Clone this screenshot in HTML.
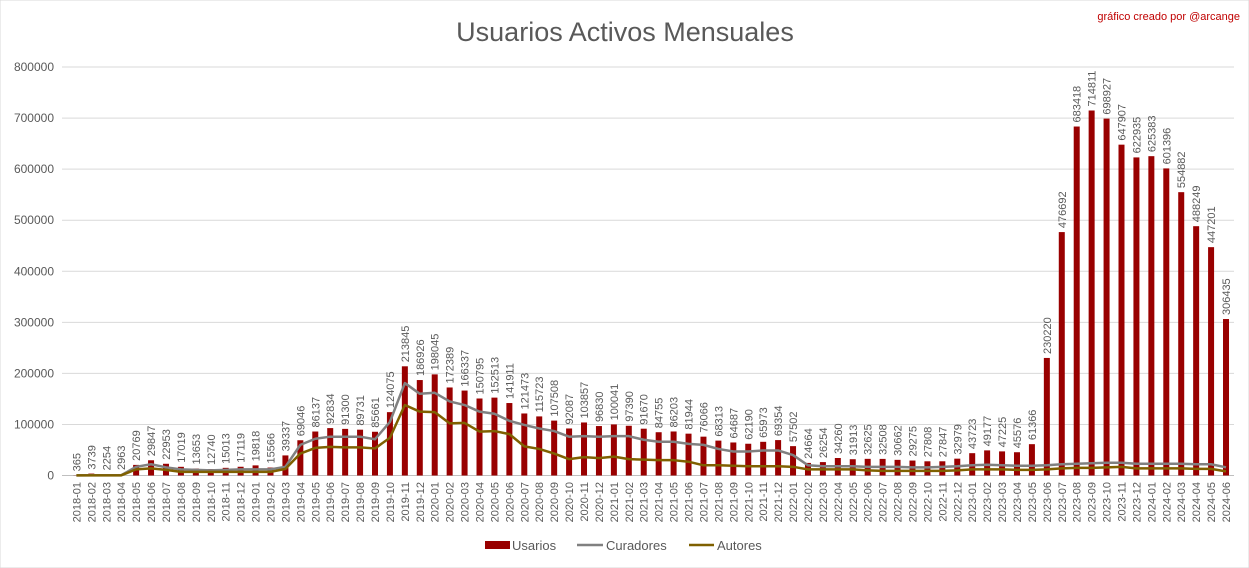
<!DOCTYPE html>
<html><head><meta charset="utf-8"><style>
html,body{margin:0;padding:0;background:#fff;}
svg{display:block;font-family:"Liberation Sans",sans-serif;}
</style></head><body>
<svg id="chart" width="1249" height="568" viewBox="0 0 1249 568" xmlns="http://www.w3.org/2000/svg">
<rect x="0" y="0" width="1249" height="568" fill="#fff" stroke="#d9d9d9"/>
<text x="625" y="41" text-anchor="middle" font-size="27" fill="#595959">Usuarios Activos Mensuales</text>
<text x="1240" y="20" text-anchor="end" font-size="11" fill="#c00000">gráfico creado por @arcange</text>
<g id="grid"></g>
<g id="yaxis"></g>
<g id="bars"></g>
<g id="lines"></g>
<g id="vlabels"></g>
<g id="xaxis"></g>
<g>
<rect x="485" y="541" width="25" height="8" fill="#990000"/>
<text x="512" y="550" font-size="13" fill="#595959">Usarios</text>
<line x1="577" y1="545" x2="603" y2="545" stroke="#808080" stroke-width="2.5"/>
<text x="606" y="550" font-size="13" fill="#595959">Curadores</text>
<line x1="689" y1="545" x2="714" y2="545" stroke="#7f6000" stroke-width="2.5"/>
<text x="717" y="550" font-size="13" fill="#595959">Autores</text>
</g>
</svg>
<script>
const usuarios=[365,3739,2254,2963,20769,29847,22953,17019,13653,12740,15013,17119,19818,15566,39337,69046,86137,92834,91300,89731,85661,124075,213845,186926,198045,172389,166337,150795,152513,141911,121473,115723,107508,92087,103857,96830,100041,97390,91670,84755,86203,81944,76066,68313,64687,62190,65973,69354,57502,24664,26254,34260,31913,32625,32508,30662,29275,27808,27847,32979,43723,49177,47225,45576,61366,230220,476692,683418,714811,698927,647907,622935,625383,601396,554882,488249,447201,306435];
const curadores=[300,500,500,500,17000,22000,16000,12000,11000,10000,11000,12000,12000,12000,17000,60000,72000,76000,76000,76000,71000,105000,181000,160000,162000,145000,138000,125000,121000,107000,99000,92000,87000,76000,77000,76000,77000,77000,70000,66000,66000,62000,60000,52000,47000,47000,49000,49000,40000,20000,18000,18000,18000,17000,17000,17000,16000,16000,17000,18000,20000,21000,20000,19000,19000,20000,22000,23000,24000,25000,25000,23000,23000,23000,23000,22000,22000,16000];
const autores=[200,300,300,300,12000,14000,11000,7000,7000,7000,7000,7000,7000,7000,13000,43000,54000,56000,55000,55000,53000,74000,138000,125000,124000,102000,103000,86000,87000,81000,57000,52000,43000,32000,36000,34000,37000,32000,31000,30000,30000,27000,20000,20000,19000,18000,18000,18000,17000,12000,12000,12000,12000,10000,9000,9000,9000,9000,9000,10000,12000,12000,12000,11000,11000,12000,14000,15000,15000,16000,17000,14000,14000,14000,14000,13000,13000,8000];
const yTicks=[0,100000,200000,300000,400000,500000,600000,700000,800000];
const months=[];
for(let i=0;i<usuarios.length;i++){const t=2*12+i;const y=2016+Math.floor(t/12);const m=(t%12)+1;months.push(y+'-'+(m<10?'0':'')+m);}
const NS='http://www.w3.org/2000/svg';
const y0=475.5,pxPer=408.5/800000,x0=76.4,step=14.93;
const yS=v=>y0-v*pxPer, xS=i=>x0+i*step;
function mk(tag,attrs,parent){const e=document.createElementNS(NS,tag);for(const k in attrs)e.setAttribute(k,attrs[k]);parent.appendChild(e);return e;}
const grid=document.getElementById('grid'),ya=document.getElementById('yaxis');
yTicks.forEach(t=>{
 const l=mk('line',{x1:62,x2:1234,y1:yS(t),y2:yS(t),stroke:t===0?'#bfbfbf':'#d9d9d9','stroke-width':1},grid);
 
 
 const tx=mk('text',{x:54,y:yS(t)+4,'text-anchor':'end','font-size':12,fill:'#595959'},ya);
 tx.textContent=String(t);
 
 
});
const bars=document.getElementById('bars'),vl=document.getElementById('vlabels'),xa=document.getElementById('xaxis');
usuarios.forEach((v,i)=>{
 const b=mk('rect',{x:xS(i)-3,y:yS(v),width:6,height:y0-yS(v),fill:'#990000'},bars);
 
 
 const tx=mk('text',{transform:'translate('+(xS(i)+4)+','+(yS(v)-4)+') rotate(-90)','font-size':11,fill:'#595959'},vl);
 tx.textContent=String(v);
 
 
 const xl=mk('text',{transform:'translate('+(xS(i)+4)+',482) rotate(-90)','text-anchor':'end','font-size':11,fill:'#595959'},xa);
 xl.textContent=months[i];
 
 
});
const lines=document.getElementById('lines');
[[curadores,'#808080','curadores-line'],[autores,'#7f6000','autores-line']].forEach(([arr,c,n])=>{
 const p=mk('polyline',{points:arr.map((v,i)=>xS(i)+','+yS(v)).join(' '),fill:'none',stroke:c,'stroke-width':2.5,'stroke-linejoin':'round'},lines);
 
 
});
</script>
</body></html>
